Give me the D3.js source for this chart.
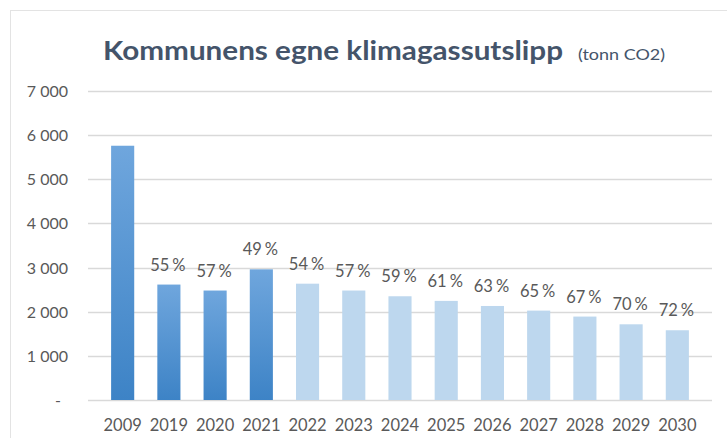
<!DOCTYPE html>
<html>
<head>
<meta charset="utf-8">
<script src="https://cdn.jsdelivr.net/npm/d3@7"></script>
<style>
    body { margin: 0; background: #fff; }
    svg text { font-family: Lato, 'Open Sans', sans-serif; }
</style>
</head>
<body>
<div id="chart"></div>
<script>
const years = ['2009', '2019', '2020', '2021', '2022', '2023', '2024', '2025', '2026', '2027', '2028', '2029', '2030'];
const emissions = [5760, 2615, 2480, 2960, 2635, 2480, 2350, 2245, 2130, 2025, 1890, 1715, 1580];
const reduction = [null, 55, 57, 49, 54, 57, 59, 61, 63, 65, 67, 70, 72];
const actual = [true, true, true, true, false, false, false, false, false, false, false, false, false];
const yTicks = [0, 1000, 2000, 3000, 4000, 5000, 6000, 7000];

const chart = (() => {
    const width = 727;
    const height = 438;
    const margin = { top: 91, left: 88, right: 15, bottom: 38 };

    const svg = d3.select('#chart')
        .append('svg')
        .attr('width', width)
        .attr('height', height);

    // outer frame, runs off the right and bottom edges
    svg.append('rect')
        .attr('x', 10.5)
        .attr('y', 10.5)
        .attr('width', width)
        .attr('height', height)
        .attr('fill', 'none')
        .attr('stroke', '#e3e3e3');

    const grad = svg.append('defs')
        .append('linearGradient')
        .attr('id', 'dark')
        .attr('x1', 0).attr('y1', 0)
        .attr('x2', 0).attr('y2', 1);
    grad.append('stop').attr('offset', '0%').attr('stop-color', '#6fa6dd');
    grad.append('stop').attr('offset', '100%').attr('stop-color', '#3d83c6');

    const x = d3.scaleBand()
        .domain(years)
        .range([margin.left, width - margin.right])
        .padding(0.5);

    const y = d3.scaleLinear()
        .domain([0, 7000])
        .range([height - margin.bottom, margin.top]);

    const fmt = d3.formatLocale({ thousands: '\u00a0', grouping: [3], decimal: ',', currency: ['', ''] }).format(',d');

    // gridlines
    svg.append('g')
        .selectAll('line')
        .data(yTicks)
        .join('line')
        .attr('x1', margin.left)
        .attr('x2', width - margin.right)
        .attr('y1', d => Math.round(y(d)) + 0.5)
        .attr('y2', d => Math.round(y(d)) + 0.5)
        .attr('stroke', '#d9d9d9')
        .attr('stroke-width', 1.5);

    svg.append('g')
        .attr('font-size', '16px')
        .attr('fill', '#595959')
        .attr('text-anchor', 'end')
        .selectAll('text')
        .data(yTicks)
        .join('text')
        .attr('x', d => d === 0 ? 61 : 68)
        .attr('y', d => y(d) + 6)
        .text(d => d === 0 ? '-' : fmt(d));

    svg.append('g')
        .selectAll('rect')
        .data(years)
        .join('rect')
        .attr('x', d => x(d))
        .attr('width', x.bandwidth())
        .attr('y', (d, i) => y(emissions[i]))
        .attr('height', (d, i) => y(0) - y(emissions[i]))
        .attr('fill', (d, i) => actual[i] ? 'url(#dark)' : '#bdd7ee');

    // percentage labels, small gap before the % sign
    const pct = svg.append('g')
        .attr('font-size', '16.5px')
        .attr('fill', '#595959')
        .attr('text-anchor', 'middle')
        .selectAll('text')
        .data(years.filter((d, i) => reduction[i] !== null))
        .join('text')
        .attr('x', d => x(d) + x.bandwidth() / 2 - 1)
        .attr('y', d => y(emissions[years.indexOf(d)]) - 14);
    pct.append('tspan').text(d => reduction[years.indexOf(d)]);
    pct.append('tspan').attr('dx', 3).text('%');

    svg.append('g')
        .attr('font-size', '16.5px')
        .attr('fill', '#595959')
        .attr('text-anchor', 'middle')
        .selectAll('text')
        .data(years)
        .join('text')
        .attr('x', d => x(d) + x.bandwidth() / 2)
        .attr('y', 431)
        .text(d => d);

    svg.append('text')
        .attr('x', 103)
        .attr('y', 60)
        .attr('fill', '#44546a')
        .attr('font-size', '26px')
        .attr('font-weight', 'bold')
        .attr('textLength', 460)
        .attr('lengthAdjust', 'spacingAndGlyphs')
        .text('Kommunens egne klimagassutslipp');

    svg.append('text')
        .attr('x', 578)
        .attr('y', 60)
        .attr('fill', '#44546a')
        .attr('font-size', '16px')
        .attr('textLength', 87)
        .attr('lengthAdjust', 'spacingAndGlyphs')
        .text('(tonn CO2)');
})();
</script>
</body>
</html>
